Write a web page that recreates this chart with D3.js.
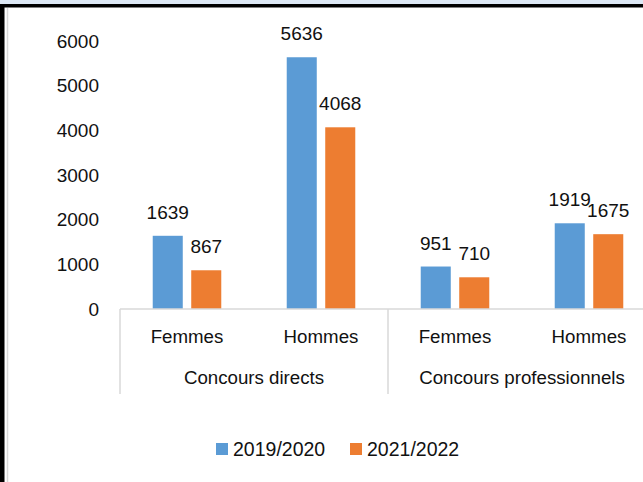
<!DOCTYPE html>
<html>
<head>
<meta charset="utf-8">
<script src="https://cdn.jsdelivr.net/npm/d3@7"></script>
<style>
  body { margin: 0; background: #fff; }
  svg { display: block; font-family: "Liberation Sans", Arial, sans-serif; }
</style>
</head>
<body>
<script>
// data
var groups = ["Concours directs", "Concours professionnels"];
var genders = ["Femmes", "Hommes"];
var series = ["2019/2020", "2021/2022"];
var values2019 = [1639, 5636, 951, 1919];
var values2021 = [867, 4068, 710, 1675];
var yTicks = [0, 1000, 2000, 3000, 4000, 5000, 6000];
var colors = ["#5b9bd5", "#ed7d31"];

var width = 643, height = 482;
var axisY = 309;

var svg = d3.select("body").append("svg")
            .attr("width", width)
            .attr("height", height);

// frame pieces (page crop)
svg.append("rect").attr("x", 0).attr("y", 0).attr("width", width).attr("height", 4).attr("fill", "#dde8f5");
svg.append("rect").attr("x", 0).attr("y", 4).attr("width", width).attr("height", 3.5).attr("fill", "#000");
svg.append("rect").attr("x", 0).attr("y", 4).attr("width", 4.5).attr("height", height).attr("fill", "#000");
svg.append("line").attr("x1", 7.5).attr("x2", 7.5).attr("y1", 8).attr("y2", height)
   .attr("stroke", "#d9d9d9").attr("stroke-width", 1.5);

// categories: one key per group/gender pair
var cats = [];
groups.forEach(function(g) {
  genders.forEach(function(s) { cats.push({group: g, gender: s}); });
});
cats.forEach(function(c, i) {
  c.values = [values2019[i], values2021[i]];
});

var xScale = d3.scaleBand().domain(d3.range(cats.length)).range([120, 656]);
var xSeries = d3.scaleBand().domain(series).range([0, xScale.bandwidth()])
                .paddingInner(0.22).paddingOuter(0.85);
var yScale = d3.scaleLinear().domain([0, 6000]).range([axisY, 41]);

// Y axis (labels only)
var yAxis = svg.append("g")
   .attr("transform", "translate(99,0)")
   .call(d3.axisLeft(yScale).tickValues(yTicks).tickFormat(d3.format("d")).tickSize(0).tickPadding(0));
yAxis.select(".domain").remove();
yAxis.selectAll("text")
     .attr("font-size", 19)
     .attr("font-family", "Liberation Sans, Arial, sans-serif")
     .attr("fill", "#111");

// bars
var catG = svg.selectAll(".cat").data(cats).enter().append("g")
   .attr("class", "cat")
   .attr("transform", function(d, i) { return "translate(" + xScale(i) + ",0)"; });

catG.selectAll("rect").data(function(d) { return d.values; }).enter().append("rect")
   .attr("x", function(d, j) { return xSeries(series[j]); })
   .attr("width", xSeries.bandwidth())
   .attr("y", function(d) { return yScale(d); })
   .attr("height", function(d) { return axisY - yScale(d); })
   .attr("fill", function(d, j) { return colors[j]; });

// value labels
catG.selectAll("text.val").data(function(d) { return d.values; }).enter().append("text")
   .attr("class", "val")
   .attr("x", function(d, j) { return xSeries(series[j]) + xSeries.bandwidth() / 2; })
   .attr("y", function(d) { return yScale(d) - 17; })
   .attr("text-anchor", "middle")
   .attr("font-size", 19)
   .attr("fill", "#111")
   .text(function(d) { return d; });

// category axis
svg.append("line")
   .attr("x1", 120).attr("x2", width).attr("y1", axisY).attr("y2", axisY)
   .attr("stroke", "#d9d9d9").attr("stroke-width", 1.5);

groups.forEach(function(g, gi) {
  var x0 = xScale(gi * genders.length);
  svg.append("line")
     .attr("x1", x0).attr("x2", x0).attr("y1", axisY).attr("y2", 394)
     .attr("stroke", "#d9d9d9").attr("stroke-width", 1.5);
  svg.append("text")
     .attr("x", x0 + xScale.bandwidth())
     .attr("y", 384)
     .attr("text-anchor", "middle")
     .attr("font-size", 18.7)
     .attr("fill", "#111")
     .text(g);
});

svg.selectAll("text.gender").data(cats).enter().append("text")
   .attr("class", "gender")
   .attr("x", function(d, i) { return xScale(i) + xScale.bandwidth() / 2; })
   .attr("y", 343)
   .attr("text-anchor", "middle")
   .attr("font-size", 18.7)
   .attr("fill", "#111")
   .text(function(d) { return d.gender; });

// legend
var legend = svg.append("g").attr("transform", "translate(216,443)");
var lx = [0, 134];
series.forEach(function(s, i) {
  legend.append("rect").attr("x", lx[i]).attr("y", 0).attr("width", 12).attr("height", 12)
        .attr("fill", colors[i]);
  legend.append("text").attr("x", lx[i] + 17).attr("y", 12.5)
        .attr("font-size", 19.5).attr("fill", "#111").text(s);
});
</script>
</body>
</html>
